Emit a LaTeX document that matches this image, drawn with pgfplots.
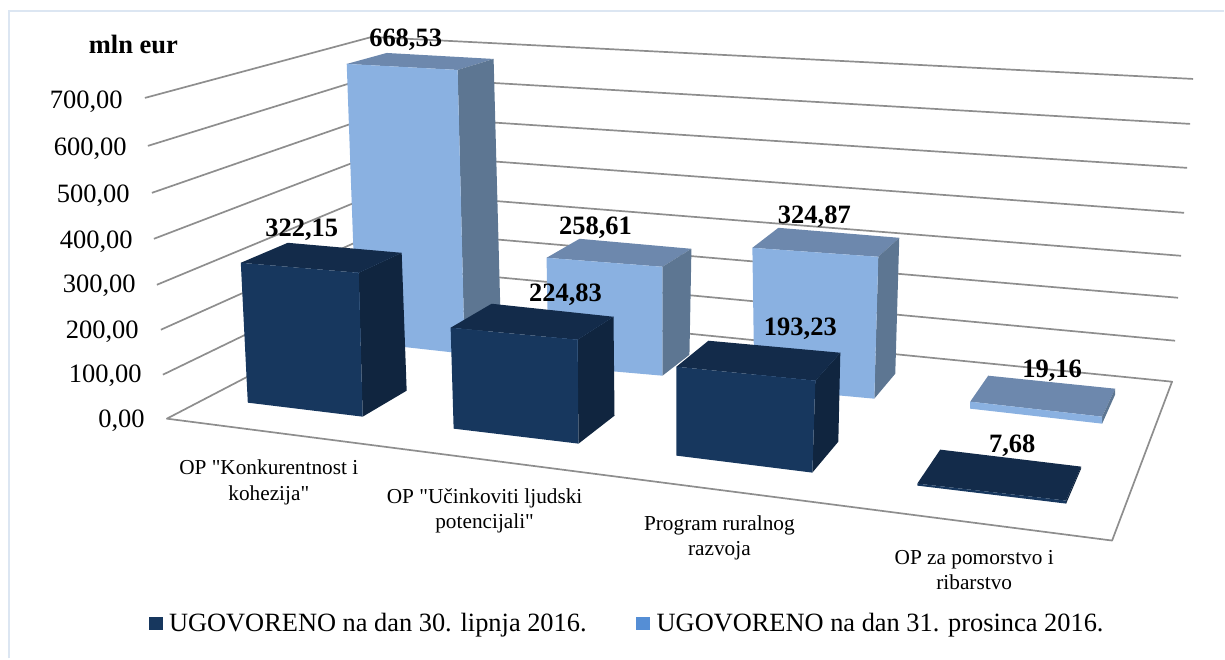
\documentclass[border=0pt]{standalone}
\usepackage{pgfplots}
\usepackage{fontspec}
\pgfplotsset{compat=1.18}
\setmainfont{Liberation Serif}[Ligatures=TeXOff]
\definecolor{grid}{HTML}{8E8E8E}
\definecolor{frame}{HTML}{DCE6F2}
\definecolor{dF}{HTML}{17375E}
\definecolor{dT}{HTML}{132B4A}
\definecolor{dS}{HTML}{10253F}
\definecolor{lF}{HTML}{8AB1E1}
\definecolor{lT}{HTML}{6D88AD}
\definecolor{lS}{HTML}{5D7692}
\definecolor{lL}{HTML}{558ED5}
\newcommand\face[2]{\addplot[fill=#1,draw=none,forget plot] coordinates {#2} -- cycle;}
\newcommand\gl[1]{\addplot[color=grid,line width=1.7pt,forget plot,line join=round] coordinates {#1};}
\newcommand\tl[3]{\node[anchor=base east,inner sep=0pt] at (axis cs:#1,#2) {\fontsize{26.5}{30}\selectfont #3};}
\newcommand\vl[3]{\node[anchor=base,inner sep=0pt] at (axis cs:#1,#2) {\fontsize{26.5}{30}\selectfont\bfseries #3};}
\newcommand\cl[3]{\node[anchor=base,inner sep=0pt] at (axis cs:#1,#2) {\fontsize{21.3}{25}\selectfont #3};}
\begin{document}
\begin{tikzpicture}
\begin{axis}[
  name=ax, at={(0,0)}, anchor=south west,
  width=1225pt, height=659pt, scale only axis,
  xmin=0, xmax=1225, ymin=0, ymax=659, y dir=reverse,
  axis lines=none, clip=false,
]
% frame
\addplot[color=frame,line width=2pt,forget plot] coordinates {(9,659)(9,11)(1225,11)};
% walls and floor
\gl{(145,98)(372,37)(1194,79)}
\gl{(148,146)(374,76)(1191,124)}
\gl{(152,193)(377,115)(1188,168)}
\gl{(154,239)(379,153)(1185,213)}
\gl{(157,285)(381,192)(1182,256)}
\gl{(161,330)(384,230)(1179,298)}
\gl{(163,375)(386,267)(1176,341)}
\gl{(388,304)(167,419)(1113,541)(1173,382)(388,304)}
% series 2: UGOVORENO na dan 31. prosinca 2016.
% 668,53
\face{lT}{(347,64)(387,53)(494,59)(458,70)}
\face{lS}{(458,70)(494,59)(501,320)(465,354)}
\face{lF}{(347,64)(458,70)(465,354)(357,342)}
% 258,61
\face{lT}{(547,258)(580,239)(692,249)(663,267)}
\face{lS}{(663,267)(692,249)(690,355)(663,376)}
\face{lF}{(547,258)(663,267)(663,376)(549,366)}
% 324,87
\face{lT}{(753,248)(779,228)(900,238)(879,257)}
\face{lS}{(879,257)(900,238)(896,374)(875,399)}
\face{lF}{(753,248)(879,257)(875,399)(755,388)}
% 19,16
\face{lT}{(971,402)(989,376)(1116,389)(1103,417)}
\face{lS}{(1103,417)(1116,389)(1116,395)(1103,424)}
\face{lF}{(971,402)(1103,417)(1103,424)(971,409)}
% series 1: UGOVORENO na dan 30. lipnja 2016.
% 322,15
\face{dT}{(241,263)(288,243)(402,253)(359,273)}
\face{dS}{(359,273)(402,253)(407,391)(363,417)}
\face{dF}{(241,263)(359,273)(363,417)(248,403)}
% 224,83
\face{dT}{(451,328)(492,304)(614,317)(578,340)}
\face{dS}{(578,340)(614,317)(615,416)(579,444)}
\face{dF}{(451,328)(578,340)(579,444)(454,429)}
% 193,23
\face{dT}{(677,367)(709,341)(841,353)(816,381)}
\face{dS}{(816,381)(841,353)(839,442)(813,473)}
\face{dF}{(677,367)(816,381)(813,473)(677,456)}
% 7,68
\face{dT}{(918,484)(941,450)(1082,467)(1067,501)}
\face{dS}{(1067,501)(1082,467)(1082,469)(1067,504)}
\face{dF}{(918,484)(1067,501)(1067,504)(918,486)}
% legend keys
\face{dF}{(149,617)(163,617)(163,631)(149,631)}
\face{lL}{(637,617)(651,617)(651,631)(637,631)}
% texts
\node[anchor=base,inner sep=0pt] at (axis cs:133.5,54) {\fontsize{26.5}{30}\selectfont\bfseries mln eur};
\tl{123}{109}{700,00}
\tl{127}{156}{600,00}
\tl{130}{203}{500,00}
\tl{133}{249}{400,00}
\tl{136}{293}{300,00}
\tl{139}{339}{200,00}
\tl{142}{383}{100,00}
\tl{145}{428}{0,00}
\vl{406}{47}{668,53}
\vl{302}{237}{322,15}
\vl{596}{235}{258,61}
\vl{566}{302}{224,83}
\vl{815}{224}{324,87}
\vl{801}{336}{193,23}
\vl{1053}{378}{19,16}
\vl{1013}{453}{7,68}
\cl{269}{475}{OP "Konkurentnost i}
\cl{269}{501}{kohezija"}
\cl{485}{504}{OP "Učinkoviti ljudski}
\cl{485}{529}{potencijali"}
\cl{720}{531}{Program ruralnog}
\cl{720}{556}{razvoja}
\cl{975}{565}{OP za pomorstvo i}
\cl{975}{590}{ribarstvo}
\node[anchor=base west,inner sep=0pt] at (axis cs:169,632) {\fontsize{26.4}{30}\selectfont UGOVORENO na dan 30. lipnja 2016.};
\node[anchor=base west,inner sep=0pt] at (axis cs:657,632) {\fontsize{26.4}{30}\selectfont UGOVORENO na dan 31. prosinca 2016.};
\end{axis}
\path[use as bounding box] (ax.south west) rectangle (ax.north east);
\end{tikzpicture}
\end{document}
